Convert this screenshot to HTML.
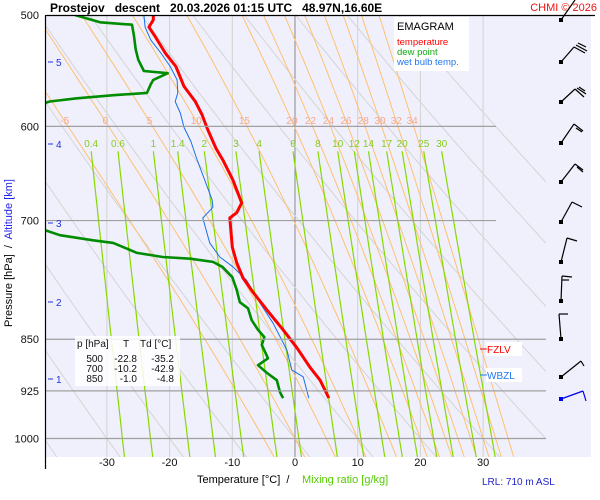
<!DOCTYPE html>
<html><head><meta charset="utf-8"><style>
body{margin:0;background:#fff;}
svg{display:block;font-family:"Liberation Sans",Arial,sans-serif;}
.pre{white-space:pre;}
</style></head><body>
<svg id="chart" width="600" height="500" viewBox="0 0 600 500">
<rect x="46" y="15" width="545" height="442" fill="#f0f0fc"/>
<defs><clipPath id="pc"><rect x="46" y="15" width="500" height="442"/></clipPath></defs>
<g id="grid" clip-path="url(#pc)"></g>
<g id="series" clip-path="url(#pc)"></g>
<g id="labels"></g>
</svg>
<script>
// ---- data ----
const pressureTicks=[500,600,700,850,925,1000];
const tempTicks=[-30,-20,-10,0,10,20,30];
const altKm=[5,4,3,2,1];
const altKmY=[62,144,223,302,379];
const dryAdiabatT1000=[-60,-50,-40,-30,-20,-10,0,10,20,30,40,50,60,70,80];
const moistThetaW=[-5,0,5,10,15,20,22,24,26,28,30,32,34];
const mixRatios=[0.4,0.6,1,1.4,2,3,4,6,8,10,12,14,17,20,25,30];
const tempP=[500,504,510,518,532,544,562,576,589,602,622,634,655,680,691,697,731,750,769,787,810,837,862,890,909,936];
const tempT=[-22.6,-22.6,-23.3,-22.3,-20.7,-19.0,-17.7,-15.9,-14.8,-14.0,-12.6,-11.5,-9.9,-8.5,-9.3,-10.4,-10.0,-9.3,-8.3,-6.7,-4.5,-1.9,0.3,2.4,4.0,5.4];
const dewP=[500,506,508,517,529,538,548,550,556,560,568,570,573,576,585,693,700,709,717,723,726,738,743,745,749,755,768,784,800,808,824,837,847,858,877,887,898,909,927,936];
const dewT=[-35.1,-31.1,-26.0,-25.7,-25.4,-25.0,-24.1,-20.3,-22.6,-23.0,-23.6,-28.7,-34.8,-39.1,-44,-44,-42.9,-40.7,-37.5,-32.2,-29.0,-25.2,-21.1,-16.7,-13.1,-11.6,-10.0,-9.3,-8.8,-7.5,-6.9,-5.9,-4.9,-5.3,-4.3,-5.9,-4.5,-2.9,-2.4,-1.9];
const wbP=[500,510,521,532,544,556,568,576,587,601,615,634,655,677,685,697,726,743,755,772,801,828,865,894,904,936];
const wbT=[-24.1,-23.9,-23.0,-21.4,-19.9,-18.8,-18.7,-19.1,-18.3,-17.7,-16.6,-15.6,-14.4,-13.2,-13.1,-14.7,-13.6,-12.0,-9.9,-7.7,-5.6,-3.5,-1.3,-0.5,1.3,2.2];
const tableRows=[["500","-22.8","-35.2"],["700","-10.2","-42.9"],["850","-1.0","-4.8"]];
// ---- axes ----
const X=t=>295+6.27*t;
const Y=p=>15+611*Math.log(p/500);
const NS="http://www.w3.org/2000/svg";
function mk(tag,attrs,parent){const e=document.createElementNS(NS,tag);for(const k in attrs)e.setAttribute(k,attrs[k]);parent.appendChild(e);return e;}
const grid=document.getElementById('grid'),series=document.getElementById('series'),labels=document.getElementById('labels');
function poly(pts){return pts.map(q=>q[0].toFixed(1)+','+q[1].toFixed(1)).join(' ');}
const es=tc=>6.112*Math.exp(17.67*tc/(tc+243.5));
tempTicks.forEach(t=>{const l=mk('line',{x1:X(t),x2:X(t),y1:15,y2:457,stroke:t===0?'#888':'#d2d2d2','stroke-width':1},grid);

});
dryAdiabatT1000.forEach(t0=>{const th=t0+273.15;const pts=[];for(let p=1040;p>=495;p-=5){pts.push([X(th*Math.pow(p/1000,0.286)-273.15),Y(p)]);}
const l=mk('polyline',{points:poly(pts),fill:'none',stroke:'#d4d4d4','stroke-width':1},grid);

});
function dTdp(p,T){const tc=T-273.15;const e=es(tc);const rs=0.622*e/(p-e);const Lv=2.5e6;return (287*T+Lv*rs)/(1005+Lv*Lv*rs*0.622/(287*T*T))/p;}
function moist(t0){const out={};let T=t0+273.15;out[1000]=T;let p=1000;while(p>495){const h=-5;const k1=dTdp(p,T);const k2=dTdp(p+h,T+h*k1);T+=h*(k1+k2)/2;p+=h;out[p]=T;}
T=t0+273.15;p=1000;while(p<1040){const h=5;const k1=dTdp(p,T);const k2=dTdp(p+h,T+h*k1);T+=h*(k1+k2)/2;p+=h;out[p]=T;}return out;}
const moistLabelX=[];
moistThetaW.forEach(t0=>{const m=moist(t0);const ps=Object.keys(m).map(Number).sort((a,b)=>a-b);const pts=ps.map(p=>[X(m[p]-273.15),Y(p)]);
const l=mk('polyline',{points:poly(pts),fill:'none',stroke:'#ffc070','stroke-width':1},grid);


moistLabelX.push(X(m[595]-273.15));});
function tdw(w,p){const e=w*p/(622+w);const a=Math.log(e/6.112);return 243.5*a/(17.67-a);}
mixRatios.forEach(w=>{const pts=[];for(let p=625;p<=1035;p+=10)pts.push([X(tdw(w,p)),Y(p)]);
const l=mk('polyline',{points:poly(pts),fill:'none',stroke:'#88d800','stroke-width':1.2},grid);

});
pressureTicks.slice(1).forEach(p=>{const l=mk('line',{x1:46,x2:p<800?496:546,y1:Y(p),y2:Y(p),stroke:'#a0a0a0','stroke-width':1.2},labels);

});
function drawSeries(P,T,col,w,name){const pts=P.map((p,i)=>[X(T[i]),Y(p)]);const l=mk('polyline',{points:poly(pts),fill:'none',stroke:col,'stroke-width':w,'stroke-linejoin':'round'},series);

}
drawSeries(wbP,wbT,'#1a6ee8',1,'wet-bulb-line');
drawSeries(dewP,dewT,'#008c00',2.6,'dew-point-line');
drawSeries(tempP,tempT,'#ff0000',3,'temperature-line');
</script>
<script>
(function(){
const NS="http://www.w3.org/2000/svg";const labels=document.getElementById('labels');
function txt(s,a){const e=document.createElementNS(NS,'text');for(const k in a)e.setAttribute(k,a[k]);e.textContent=s;labels.appendChild(e);return e;}
function ln(x1,y1,x2,y2,c,w){const e=document.createElementNS(NS,'line');e.setAttribute('x1',x1);e.setAttribute('y1',y1);e.setAttribute('x2',x2);e.setAttribute('y2',y2);e.setAttribute('stroke',c);e.setAttribute('stroke-width',w||1);labels.appendChild(e);return e;}
let f=ln(45.5,15,45.5,469,'#000',1.2);


f=ln(46,15.5,595,15.5,'#000',1.2);


pressureTicks.forEach(p=>{const t=txt(String(p),{x:39,y:Y(p)+4,'text-anchor':'end','font-size':11,fill:'#111'});

});
tempTicks.forEach(v=>{const t=txt(String(v),{x:X(v),y:466,'text-anchor':'middle','font-size':11,fill:'#111'});

});
altKm.forEach((k,i)=>{ln(48,altKmY[i],53,altKmY[i],'#2233dd',1);const t=txt(String(k),{x:56,y:altKmY[i]+4,'font-size':10,fill:'#2233dd'});

});
moistThetaW.forEach((v,i)=>{const t=txt(String(v),{x:moistLabelX[i],y:124,'text-anchor':'middle','font-size':10,fill:'#f4a890'});

});
mixRatios.forEach(w=>{const t=txt(String(w),{x:X(tdw(w,625)),y:147,'text-anchor':'middle','font-size':10,fill:'#88cc22'});

});
let t=txt('Prostejov   descent   20.03.2026 01:15 UTC   48.97N,16.60E',{x:50,y:12,'font-size':12,'font-weight':'bold',fill:'#000','class':'pre'});


t=txt('CHMI © 2026',{x:597,y:11,'text-anchor':'end','font-size':11,fill:'#ee1111'});


let r=document.createElementNS(NS,'rect');r.setAttribute('x',394);r.setAttribute('y',17);r.setAttribute('width',75);r.setAttribute('height',54);r.setAttribute('fill','#fff');labels.appendChild(r);


t=txt('EMAGRAM',{x:397,y:30,'font-size':11,fill:'#000'});


[['temperature','#ff0000',45],['dew point','#11aa11',55],['wet bulb temp.','#2277ee',65]].forEach(a=>{const e=txt(a[0],{x:397,y:a[2],'font-size':9.5,fill:a[1]});

});
r=document.createElementNS(NS,'rect');r.setAttribute('x',75);r.setAttribute('y',336);r.setAttribute('width',105);r.setAttribute('height',50);r.setAttribute('fill','#fff');r.setAttribute('fill-opacity','0.85');labels.appendChild(r);


t=txt('p [hPa]',{x:77,y:347,'font-size':10,fill:'#111'});


t=txt('T',{x:126,y:347,'text-anchor':'middle','font-size':10,fill:'#111'});


t=txt('Td [°C]',{x:140,y:347,'font-size':10,fill:'#111'});


tableRows.forEach((row,i)=>{const y=362+i*10;[[103,row[0]],[137,row[1]],[174,row[2]]].forEach(c=>{const e=txt(c[1],{x:c[0],y:y,'text-anchor':'end','font-size':10,fill:'#111'});

});});
r=document.createElementNS(NS,'rect');r.setAttribute('x',486);r.setAttribute('y',342);r.setAttribute('width',36);r.setAttribute('height',14);r.setAttribute('fill','#fff');labels.appendChild(r);
r=document.createElementNS(NS,'rect');r.setAttribute('x',486);r.setAttribute('y',368);r.setAttribute('width',36);r.setAttribute('height',14);r.setAttribute('fill','#fff');labels.appendChild(r);
ln(480,349,487,349,'#ff0000',1);ln(480,375,487,375,'#2277ee',1);
t=txt('FZLV',{x:487,y:353,'font-size':10,fill:'#ff0000'});


t=txt('WBZL',{x:487,y:379,'font-size':10,fill:'#2277ee'});


t=txt('Temperature [°C]  /  ',{x:197,y:483,'font-size':11,fill:'#000','class':'pre'});


t=txt('Mixing ratio [g/kg]',{x:302,y:483,'font-size':11,fill:'#55cc00'});


t=txt('LRL: 710 m ASL',{x:482,y:485,'font-size':10,fill:'#2222cc'});


const g=document.createElementNS(NS,'text');g.setAttribute('transform','translate(12,253) rotate(-90)');g.setAttribute('text-anchor','middle');g.setAttribute('font-size',11);g.setAttribute('class','pre');
g.innerHTML='<tspan fill="#000">Pressure [hPa]  /  </tspan><tspan fill="#2222ee">Altitude [km]</tspan>';labels.appendChild(g);


const barbs=[
 [20,[[561,20,575,0]],'#000'],
 [62,[[561,62,574,47],[574,47,585,53],[576,45,587,51],[578,43,586,47]],'#000'],
 [102,[[561,102,575,89],[575,89,584,97],[577,88,586,94],[579,87,585,91]],'#000'],
 [143,[[561,143,574,124],[574,124,583,131],[576,128,582,132]],'#000'],
 [182,[[561,182,575,164],[575,164,583,170],[577,167,583,172]],'#000'],
 [222,[[561,222,572,202],[572,202,582,207]],'#000'],
 [262,[[561,262,567,238],[567,238,577,241]],'#000'],
 [301,[[561,301,562,276],[562,276,572,277],[562,280,569,280]],'#000'],
 [339,[[561,339,559,314],[559,314,568,314]],'#000'],
 [377,[[561,377,581,361],[581,361,584,366]],'#000'],
 [399,[[561,399,583,391],[583,391,586,401]],'#0000ee']];
barbs.forEach(b=>{const gg=document.createElementNS(NS,'g');labels.appendChild(gg);


b[1].forEach(s=>{const e=document.createElementNS(NS,'line');e.setAttribute('x1',s[0]);e.setAttribute('y1',s[1]);e.setAttribute('x2',s[2]);e.setAttribute('y2',s[3]);e.setAttribute('stroke',b[2]);e.setAttribute('stroke-width',1.2);gg.appendChild(e);});
const d=document.createElementNS(NS,'rect');d.setAttribute('x',559);d.setAttribute('y',b[0]-2);d.setAttribute('width',4);d.setAttribute('height',4);d.setAttribute('fill',b[2]);gg.appendChild(d);});
})();
</script>
</body></html>
